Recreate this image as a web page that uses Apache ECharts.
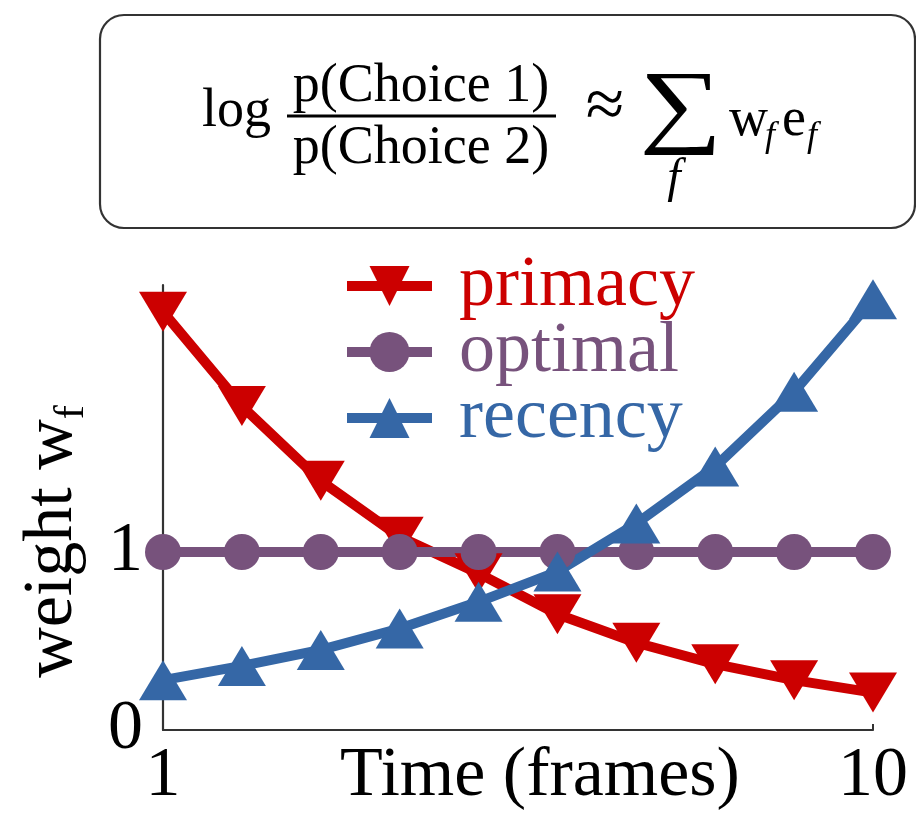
<!DOCTYPE html>
<html>
<head>
<meta charset="utf-8">
<script src="https://cdn.jsdelivr.net/npm/echarts@6/dist/echarts.min.js"></script>
<style>
    html, body { margin: 0; padding: 0; background: #fff; }
    #chart { width: 916px; height: 822px; }
</style>
</head>
<body>
<div id="chart"></div>
<script>
// Data
const frames = [1, 2, 3, 4, 5, 6, 7, 8, 9, 10];
const primacy = [2.35, 1.82, 1.40, 1.085, 0.88, 0.65, 0.49, 0.37, 0.28, 0.21];
const optimal = [1, 1, 1, 1, 1, 1, 1, 1, 1, 1];
const recency = [0.28, 0.36, 0.45, 0.57, 0.72, 0.89, 1.16, 1.48, 1.90, 2.42];
const xTicks = [1, 10];
const yTicks = [0, 1];

const RED = '#cc0000';
const PURPLE = '#77527c';
const BLUE = '#3567a6';
const FONT = '"Liberation Serif", "DejaVu Serif", serif';

const pairs = vals => frames.map((f, i) => [f, vals[i]]);

const myChart = echarts.init(document.getElementById('chart'));

const seriesBase = {
    type: 'line',
    clip: false,
    lineStyle: { width: 10 },
    emphasis: { disabled: true }
};

// formula box: text placed with top alignment (baseline is about 0.8em below top)
const txt = (text, x, y, size, extra) => ({
    type: 'text', x: x, y: y,
    style: Object.assign({ text: text, font: size + 'px ' + FONT, fill: '#000', verticalAlign: 'top' }, extra || {})
});

const formula = [
    { type: 'rect', shape: { x: 100, y: 15, width: 815, height: 213, r: 24 },
      style: { fill: 'none', stroke: '#333', lineWidth: 2.2 } },
    txt('log', 202, 85, 54),
    txt('p(Choice 1)', 421, 60, 54, { align: 'center' }),
    { type: 'line', shape: { x1: 287, y1: 116, x2: 556, y2: 116 }, style: { stroke: '#000', lineWidth: 3 } },
    txt('p(Choice 2)', 421, 122, 54, { align: 'center' }),
    txt('\u2248', 605, 74, 70, { align: 'center' }),
    Object.assign(txt('\u2211', 681, 64, 93, { align: 'center' }), { scaleX: 1.25 }),
    txt('f', 674, 155, 48, { align: 'center', font: 'italic 48px ' + FONT }),
    txt('w', 729, 94, 54),
    txt('f', 765, 119, 36, { font: 'italic 36px ' + FONT }),
    txt('e', 782, 94, 54),
    txt('f', 807, 119, 36, { font: 'italic 36px ' + FONT })
];

const option = {
    backgroundColor: '#fff',
    animation: false,
    grid: { left: 163, right: 43, top: 285, bottom: 92, outerBoundsMode: 'none', containLabel: false },
    legend: {
        orient: 'vertical',
        left: 337,
        top: 240,
        itemWidth: 85,
        itemHeight: 50,
        itemGap: -16,
        selectedMode: false,
        lineStyle: { width: 10 },
        textStyle: { fontFamily: FONT, fontSize: 72, lineHeight: 50, padding: [32, 0, 0, 22] },
        data: [
            { name: 'primacy', textStyle: { color: RED } },
            { name: 'optimal', textStyle: { color: PURPLE } },
            { name: 'recency', textStyle: { color: BLUE } }
        ]
    },
    xAxis: {
        type: 'value',
        min: 1,
        max: 10,
        name: 'Time (frames)',
        nameLocation: 'middle',
        nameGap: 12,
        nameMoveOverlap: false,
        nameTextStyle: { fontFamily: FONT, fontSize: 70, color: '#000', verticalAlign: 'top', padding: [0, 0, 0, 44] },
        axisLine: { lineStyle: { color: '#333', width: 2.2 } },
        axisTick: { show: true, inside: true, length: 6, customValues: xTicks, lineStyle: { color: '#333', width: 2 } },
        axisLabel: { customValues: xTicks, fontFamily: FONT, fontSize: 70, color: '#000', margin: 12 },
        splitLine: { show: false }
    },
    yAxis: {
        type: 'value',
        min: 0,
        max: 2.5,
        name: 'weight w{sub|f}',
        nameLocation: 'middle',
        nameGap: 70,
        nameMoveOverlap: false,
        nameTextStyle: {
            fontFamily: FONT, fontSize: 70, color: '#000', lineHeight: 80, padding: [0, 68, 0, 0],
            rich: { sub: { fontFamily: FONT, fontSize: 42, lineHeight: 40, verticalAlign: 'bottom', color: '#000' } }
        },
        axisLine: { show: true, lineStyle: { color: '#333', width: 2.2 } },
        axisTick: { show: false },
        axisLabel: { customValues: yTicks, fontFamily: FONT, fontSize: 70, color: '#000', margin: 20 },
        splitLine: { show: false }
    },
    graphic: formula,
    series: [
        Object.assign({}, seriesBase, {
            name: 'primacy',
            data: pairs(primacy),
            symbol: 'triangle',
            symbolRotate: 180,
            symbolSize: [48, 40],
            itemStyle: { color: RED },
            lineStyle: { width: 10, color: RED }
        }),
        Object.assign({}, seriesBase, {
            name: 'optimal',
            data: pairs(optimal),
            symbol: 'circle',
            symbolSize: 36,
            itemStyle: { color: PURPLE },
            lineStyle: { width: 10, color: PURPLE }
        }),
        Object.assign({}, seriesBase, {
            name: 'recency',
            data: pairs(recency),
            symbol: 'triangle',
            symbolSize: [48, 40],
            itemStyle: { color: BLUE },
            lineStyle: { width: 10, color: BLUE }
        })
    ]
};

myChart.setOption(option, true);
window.onresize = function () {
    myChart.resize();
};
</script>
</body>
</html>
